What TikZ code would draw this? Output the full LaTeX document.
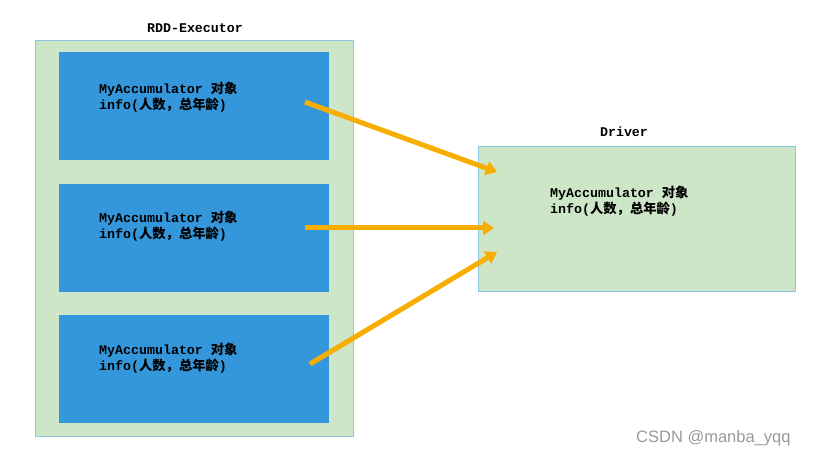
\documentclass[tikz,border=0pt]{standalone}
\usepackage{fontspec}
\setmainfont{Liberation Sans}
\setmonofont{Liberation Mono}
\newfontfamily\cjk{Noto Sans CJK SC}
\usetikzlibrary{arrows.meta,positioning}

\definecolor{boxgreen}{HTML}{CDE6C8}
\definecolor{boxedge}{HTML}{8AC6E0}
\definecolor{boxblue}{HTML}{3597DB}
\definecolor{arrorange}{HTML}{F7AE00}

\newcommand{\accinfo}{MyAccumulator {\cjk 对象}\\info({\cjk 人数，总年龄})}

\begin{document}
\begin{tikzpicture}[x=1pt,y=-1pt,>={Triangle[width=14pt,length=11pt]},
  outer/.style={draw=boxedge,fill=boxgreen,line width=0.8pt,anchor=north west,inner sep=0pt},
  inner/.style={fill=boxblue,anchor=north west,inner sep=0pt,minimum width=270pt,minimum height=108pt},
  txt/.style={font=\ttfamily\bfseries\fontsize{13.3}{16}\selectfont,align=left,anchor=north west,inner sep=0pt},
  ttl/.style={font=\ttfamily\bfseries\fontsize{13.3}{16}\selectfont,inner sep=0pt},
  flow/.style={->,draw=arrorange,line width=5pt}]

\fill[white] (0,0) rectangle (820,457);

% executor side
\node[outer,minimum width=318pt,minimum height=396pt] (exec) at (35,40) {};
\node[ttl] (execlbl) at (195,28) {RDD-Executor};
\node[inner] (b1) at (59,52) {};
\node[inner] (b2) [below=23pt of b1] {};
\node[inner] (b3) [below=23pt of b2] {};
\node[txt] (t1) at (99,82) {\accinfo};
\node[txt] (t2) at (99,211) {\accinfo};
\node[txt] (t3) at (99,343) {\accinfo};

% driver side
\node[outer,minimum width=317pt,minimum height=145pt] (drv) at (478,146) {};
\node[ttl] (drvlbl) at (624,132) {Driver};
\node[txt] (t4) at (550,186) {\accinfo};

\coordinate (s1) at (305,102);
\coordinate (s2) at (305,228);
\coordinate (s3) at (310,364);
\coordinate (e1) at (497,172);
\coordinate (e2) at (494,228);
\coordinate (e3) at (497,252);

\draw[flow] (s1) -- (e1);
\draw[flow] (s2) -- (e2);
\draw[flow] (s3) -- (e3);

\node[font=\fontsize{16.5}{19}\selectfont,text=black!40,anchor=west,inner sep=0pt] (mark) at (636,438) {CSDN @manba\_yqq};
\end{tikzpicture}
\end{document}
